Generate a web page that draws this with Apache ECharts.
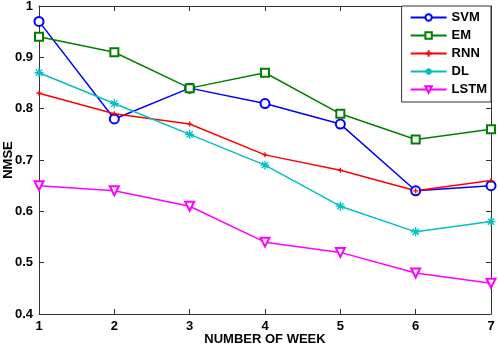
<!DOCTYPE html>
<html>
<head>
<meta charset="utf-8">
<script src="https://cdn.jsdelivr.net/npm/echarts@6/dist/echarts.min.js"></script>
<style>
  html, body { margin: 0; padding: 0; background: #fff; }
  #chart { width: 498px; height: 346px; }
</style>
</head>
<body>
<div id="chart"></div>
<script>
const weeks = ['1', '2', '3', '4', '5', '6', '7']
const svm = [0.97, 0.78, 0.84, 0.81, 0.77, 0.64, 0.65]
const em = [0.94, 0.91, 0.84, 0.87, 0.79, 0.74, 0.76]
const rnn = [0.83, 0.79, 0.77, 0.71, 0.68, 0.64, 0.66]
const dl = [0.87, 0.81, 0.75, 0.69, 0.61, 0.56, 0.58]
const lstm = [0.65, 0.64, 0.61, 0.54, 0.52, 0.48, 0.46]

const font = 'Liberation Sans, Arial, sans-serif'
const axisColor = '#333'

const plusPath = 'path://M0,5L10,5M5,0L5,10'
const starPath = 'path://M0,5L10,5M5,0L5,10M1.5,1.5L8.5,8.5M8.5,1.5L1.5,8.5'

function makeSeries(name, data, color, symbol, size, extra) {
  return Object.assign({
    name,
    type: 'line',
    data: data.map((v, i) => [weeks[i], v]),
    symbol,
    symbolSize: size,
    lineStyle: { width: 1.5, color },
    itemStyle: { color, borderColor: color, borderWidth: 1.3 },
    emphasis: { disabled: true },
    animation: false
  }, extra || {})
}

const myChart = echarts.init(document.getElementById('chart'))

const option = {
  backgroundColor: '#fff',
  textStyle: { fontFamily: font },
  grid: { left: 39, right: 7, top: 6, bottom: 32, outerBoundsMode: 'none', containLabel: false },
  legend: {
    orient: 'vertical',
    right: 7,
    top: 6,
    backgroundColor: '#fff',
    borderColor: axisColor,
    borderWidth: 1,
    padding: [5, 4, 6, 8],
    itemWidth: 36,
    itemHeight: 8,
    itemGap: 5,
    textStyle: { fontSize: 13, lineHeight: 12, fontWeight: 'bold', color: '#000', fontFamily: font },
    data: ['SVM', 'EM', 'RNN', 'DL', 'LSTM']
  },
  xAxis: [
    {
      type: 'category',
      data: weeks,
      boundaryGap: false,
      name: 'NUMBER OF WEEK',
      nameLocation: 'middle',
      nameGap: 19,
      nameMoveOverlap: false,
      nameTextStyle: { fontSize: 13, fontWeight: 'bold', color: '#000' },
      axisLine: { lineStyle: { color: axisColor } },
      axisTick: { inside: true, length: 5, lineStyle: { color: axisColor } },
      axisLabel: { fontSize: 13, fontWeight: 'bold', color: '#000', margin: 6 },
      splitLine: { show: false }
    },
    {
      type: 'category',
      data: weeks,
      boundaryGap: false,
      position: 'top',
      axisLine: { lineStyle: { color: axisColor } },
      axisTick: { inside: true, length: 5, lineStyle: { color: axisColor } },
      axisLabel: { show: false },
      splitLine: { show: false }
    }
  ],
  yAxis: [
    {
      type: 'value',
      min: 0.4,
      max: 1,
      interval: 0.1,
      name: 'NMSE',
      nameLocation: 'middle',
      nameGap: 24,
      nameMoveOverlap: false,
      nameTextStyle: { fontSize: 13, fontWeight: 'bold', color: '#000' },
      axisLine: { show: true, lineStyle: { color: axisColor } },
      axisTick: { show: true, inside: true, length: 5, lineStyle: { color: axisColor } },
      axisLabel: {
        fontSize: 13, fontWeight: 'bold', color: '#000', margin: 6,
        formatter: v => (Math.round(v * 10) / 10).toString()
      },
      splitLine: { show: false }
    },
    {
      type: 'value',
      min: 0.4,
      max: 1,
      interval: 0.1,
      position: 'right',
      axisLine: { show: true, lineStyle: { color: axisColor } },
      axisTick: { show: true, inside: true, length: 5, lineStyle: { color: axisColor } },
      axisLabel: { show: false },
      splitLine: { show: false }
    }
  ],
  series: [
    makeSeries('SVM', svm, '#0000ff', 'emptyCircle', 9),
    makeSeries('EM', em, '#008000', 'emptyRect', 8),
    makeSeries('RNN', rnn, '#ff0000', plusPath, 5),
    makeSeries('DL', dl, '#00c0c0', starPath, 9),
    makeSeries('LSTM', lstm, '#ff00ff', 'emptyTriangle', 9, { symbolRotate: 180 })
  ]
}

myChart.setOption(option)
</script>
</body>
</html>
